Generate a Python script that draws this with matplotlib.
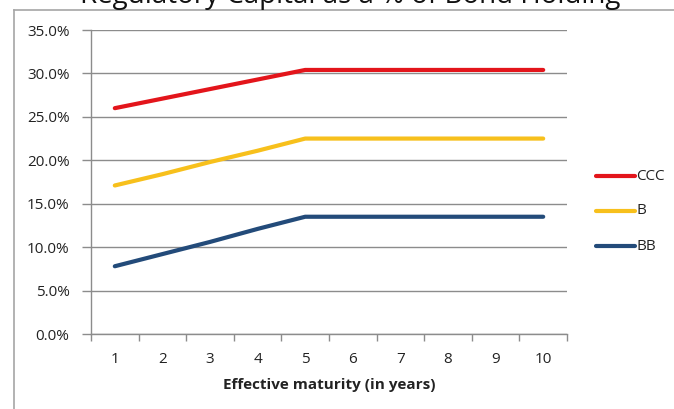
import matplotlib
matplotlib.use("Agg")
import matplotlib.pyplot as plt
from matplotlib.lines import Line2D
from matplotlib.ticker import FuncFormatter, FixedLocator

# Effective maturity in years and capital requirement (%) per rating
maturity = [1, 2, 3, 4, 5, 6, 7, 8, 9, 10]
ccc = [26.0, 27.1, 28.2, 29.3, 30.4, 30.4, 30.4, 30.4, 30.4, 30.4]
b = [17.1, 18.4, 19.8, 21.1, 22.5, 22.5, 22.5, 22.5, 22.5, 22.5]
bb = [7.8, 9.2, 10.6, 12.1, 13.5, 13.5, 13.5, 13.5, 13.5, 13.5]
series_names = ["CCC", "B", "BB"]
y_ticks = [0, 5, 10, 15, 20, 25, 30, 35]
title_text = "Regulatory Capital as a % of Bond Holding"
x_label = "Effective maturity (in years)"

colors = {"CCC": "#E3151B", "B": "#F7C01C", "BB": "#234B7A"}
grey = "#8C8C8C"
text_col = "#222222"
font = ["Open Sans", "DejaVu Sans"]
plt.rcParams["font.family"] = font

W, H = 674, 409
fig = plt.figure(figsize=(W / 100, H / 100), dpi=100)

# plot area in pixels: left 91, right 567, top 30, bottom 334
l, r, t, bt = 91, 567, 30, 334
ax = fig.add_axes([l / W, 1 - bt / H, (r - l) / W, (bt - t) / H])

lines = {}
for name, vals in zip(series_names, [ccc, b, bb]):
    lines[name], = ax.plot(maturity, vals, color=colors[name], lw=3.0,
                           solid_capstyle="round", label=name, zorder=3)

ax.set_xlim(0.5, 10.5)
ax.set_ylim(0, 35)
ax.set_yticks(y_ticks)
ax.yaxis.set_major_formatter(FuncFormatter(lambda v, p: f"{v:.1f}%"))
ax.grid(axis="y", color=grey, lw=1.0, zorder=0)
ax.set_axisbelow(True)

# category axis: labels at centres, tick marks on boundaries
ax.set_xticks(maturity)
ax.set_xticklabels([str(m) for m in maturity])
ax.tick_params(axis="x", which="major", length=0, pad=13, labelsize=11,
               labelcolor=text_col)
ax.xaxis.set_minor_locator(FixedLocator([m + 0.5 for m in range(0, 11)]))
ax.tick_params(axis="x", which="minor", length=5, color=grey, width=1)
ax.tick_params(axis="y", length=6.5, color=grey, width=1, pad=9, labelsize=11,
               labelcolor=text_col)

for s in ["top", "right"]:
    ax.spines[s].set_visible(False)
for s in ["left", "bottom"]:
    ax.spines[s].set_color(grey)
    ax.spines[s].set_linewidth(1.0)

ax.set_xlabel(x_label, fontsize=11, fontweight="bold", labelpad=8,
              color=text_col)

# legend on the right: swatch lines with labels
legend_rows = {"CCC": 176, "B": 211, "BB": 246}
for name in series_names:
    yy = 1 - legend_rows[name] / H
    fig.add_artist(Line2D([596 / W, 635 / W], [yy, yy], transform=fig.transFigure,
                          color=lines[name].get_color(), lw=3.0,
                          solid_capstyle="round"))
    fig.text(636 / W, yy, name, ha="left", va="center", fontsize=11,
             color=text_col)

# chart frame
fig.add_artist(Line2D([14 / W, 14 / W], [0, 1 - 10 / H], transform=fig.transFigure,
                      color="#A6A6A6", lw=1.2))
fig.add_artist(Line2D([14 / W, 1], [1 - 10 / H, 1 - 10 / H], transform=fig.transFigure,
                      color="#A6A6A6", lw=1.2))

# title, mostly above the visible area
fig.text(350 / W, 1 - 2.5 / H, title_text, ha="center", va="baseline",
         fontsize=20, color="#111111")

fig.savefig("out.png", dpi=100, facecolor="white")
